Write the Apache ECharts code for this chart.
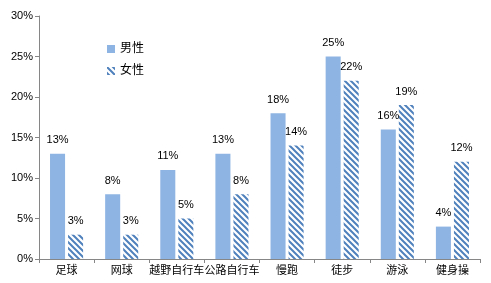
<!DOCTYPE html>
<html>
<head>
<meta charset="utf-8">
<script src="https://cdn.jsdelivr.net/npm/echarts@6/dist/echarts.min.js"></script>
<style>
  html, body { margin: 0; padding: 0; background: #fff; }
  #chart { width: 491px; height: 283px; }
</style>
</head>
<body>
<div id="chart"></div>
<script>
  let categories = ['足球', '网球', '越野自行车', '公路自行车', '慢跑', '徒步', '游泳', '健身操']
  let male = [13, 8, 11, 13, 18, 25, 16, 4]
  let female = [3, 3, 5, 8, 14, 22, 19, 12]

  // 斜线填充
  function makeHatch() {
    let c = document.createElement('canvas')
    c.width = 6
    c.height = 6
    let ctx = c.getContext('2d')
    ctx.fillStyle = '#fff'
    ctx.fillRect(0, 0, 6, 6)
    ctx.strokeStyle = '#4f81bd'
    ctx.lineWidth = 2
    ctx.beginPath()
    ctx.moveTo(-1, -1); ctx.lineTo(7, 7)
    ctx.moveTo(-1, 5); ctx.lineTo(1, 7)
    ctx.moveTo(5, -1); ctx.lineTo(7, 1)
    ctx.stroke()
    return c
  }

  let font = "'Liberation Sans', 'Noto Sans CJK SC', sans-serif"
  let myChart = echarts.init(document.getElementById('chart'))
  let option = {
    animation: false,
    textStyle: { fontFamily: font },
    grid: { left: 39, right: 11, top: 16, bottom: 24 },
    legend: {
      orient: 'vertical',
      left: 102,
      top: 38,
      icon: 'rect',
      itemWidth: 8,
      itemHeight: 8,
      itemGap: 10,
      textStyle: { fontSize: 12, color: '#000', fontFamily: font },
      data: ['男性', '女性']
    },
    xAxis: {
      type: 'category',
      data: categories,
      axisLine: { lineStyle: { color: '#868686' } },
      axisTick: { show: true, length: 4, lineStyle: { color: '#868686' } },
      axisLabel: { color: '#000', fontSize: 11, margin: 6, interval: 0 }
    },
    yAxis: {
      type: 'value',
      min: 0,
      max: 30,
      interval: 5,
      splitLine: { show: false },
      axisLine: { show: true, lineStyle: { color: '#868686' } },
      axisTick: { show: true, length: 4, lineStyle: { color: '#868686' } },
      axisLabel: { color: '#000', fontSize: 11, margin: 6, formatter: '{value}%' }
    },
    series: [{
      name: '男性',
      type: 'bar',
      data: male,
      barGap: '20%',
      barCategoryGap: '40%',
      itemStyle: { color: '#8eb4e3' },
      label: { show: true, position: 'top', distance: 8, color: '#000', fontSize: 11, formatter: '{c}%' }
    }, {
      name: '女性',
      type: 'bar',
      data: female,
      itemStyle: { color: { image: makeHatch(), repeat: 'repeat' } },
      label: { show: true, position: 'top', distance: 8, color: '#000', fontSize: 11, formatter: '{c}%' }
    }]
  }
  myChart.setOption(option)
</script>
</body>
</html>
